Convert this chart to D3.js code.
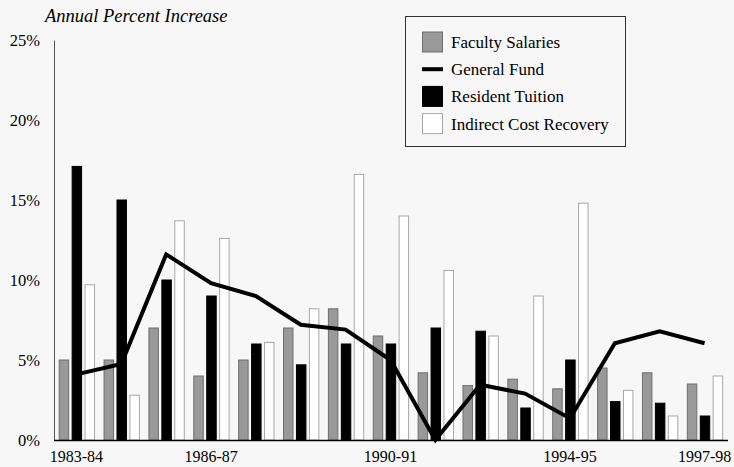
<!DOCTYPE html>
<html><head><meta charset="utf-8">
<script src="https://cdn.jsdelivr.net/npm/d3@7"></script>
<style>
html,body{margin:0;padding:0;background:#f7f7f7;}
svg{display:block;}
</style></head>
<body><svg id="c" width="734" height="467"></svg>
<script>
const years = ["1983-84","1984-85","1985-86","1986-87","1987-88","1988-89","1989-90","1990-91","1991-92","1992-93","1993-94","1994-95","1995-96","1996-97","1997-98"];
const tickYears = ["1983-84","1986-87","1990-91","1994-95","1997-98"];
const facultySalaries = [5.0,5.0,7.0,4.0,5.0,7.0,8.2,6.5,4.2,3.4,3.8,3.2,4.5,4.2,3.5];
const generalFund = [4.1,4.75,11.6,9.8,9.0,7.2,6.9,5.0,0.0,3.45,2.9,1.35,6.05,6.8,6.05];
const residentTuition = [17.1,15.0,10.0,9.0,6.0,4.7,6.0,6.0,7.0,6.8,2.0,5.0,2.4,2.3,1.5];
const indirectCost = [9.7,2.8,13.7,12.6,6.1,8.2,16.6,14.0,10.6,6.5,9.0,14.8,3.1,1.5,4.0];
const yTicks = [0,5,10,15,20,25];

const FONT = '"Liberation Serif"';
const svg = d3.select("#c");
const x = d3.scaleBand().domain(years).range([54,727]).paddingInner(0).paddingOuter(0);
const y = d3.scaleLinear().domain([0,25]).range([440,40]);
const barSeries = [
  {name:"Faculty Salaries", values:facultySalaries, fill:"#999999", stroke:"#6e6e6e", idx:0},
  {name:"Resident Tuition", values:residentTuition, fill:"#000000", stroke:"#000000", idx:1},
  {name:"Indirect Cost Recovery", values:indirectCost, fill:"#ffffff", stroke:"#a8a8a8", idx:2}
];
const sub = d3.scaleBand().domain([0,1,2]).range([0,x.bandwidth()]).paddingInner(0.19).paddingOuter(0.33).align(0.55);

barSeries.forEach(s=>{
  svg.append("g").selectAll("rect").data(years).join("rect")
    .attr("x",d=>x(d)+sub(s.idx)+0.5)
    .attr("y",(d,i)=>y(s.values[i]))
    .attr("width",sub.bandwidth()-1)
    .attr("height",(d,i)=>y(0)-y(s.values[i]))
    .attr("fill",s.fill).attr("stroke",s.stroke).attr("stroke-width",1);
});

// axes
const yAxis = svg.append("g").attr("transform","translate(54,0)")
  .call(d3.axisLeft(y).tickValues(yTicks).tickFormat(d=>d+"%").tickSize(0).tickPadding(14));
yAxis.select(".domain").attr("stroke","#555").attr("d","M0.5,40.5V440.5");
yAxis.selectAll("text").style("font-family",FONT).style("font-size","16.5px").attr("fill","#000");

const xAxis = svg.append("g").attr("transform","translate(0,440)")
  .call(d3.axisBottom(x).tickValues(tickYears).tickSize(0).tickPadding(11));
xAxis.select(".domain").attr("stroke","#000").attr("stroke-width",1.5).attr("d","M54,0.5H728");
xAxis.selectAll("text").style("font-family",FONT).style("font-size","16px").attr("fill","#000");

// general fund line
const line = d3.line().x((d,i)=>x(years[i])+x.bandwidth()/2).y(d=>y(d));
svg.append("path").datum(generalFund).attr("d",line)
  .attr("fill","none").attr("stroke","#000").attr("stroke-width",4).attr("stroke-linejoin","miter");

// title
svg.append("text").attr("x",45).attr("y",22).style("font-size","18.5px").style("font-style","italic")
  .style("font-family",FONT).text("Annual Percent Increase");

// legend
const lg = svg.append("g");
lg.append("rect").attr("x",405.5).attr("y",16.5).attr("width",220).attr("height",130)
  .attr("fill","#f7f7f7").attr("stroke","#333").attr("stroke-width",1);
const legendItems = [
  {name:"Faculty Salaries", type:"rect", fill:"#999999", stroke:"#6e6e6e"},
  {name:"General Fund", type:"line"},
  {name:"Resident Tuition", type:"rect", fill:"#000000", stroke:"#000000"},
  {name:"Indirect Cost Recovery", type:"rect", fill:"#ffffff", stroke:"#a8a8a8"}
];
legendItems.forEach((it,i)=>{
  const cy = 42 + i*27.2;
  if(it.type==="rect"){
    lg.append("rect").attr("x",422.5).attr("y",cy-10).attr("width",20).attr("height",20)
      .attr("fill",it.fill).attr("stroke",it.stroke);
  } else {
    lg.append("line").attr("x1",422).attr("x2",443).attr("y1",cy).attr("y2",cy)
      .attr("stroke","#000").attr("stroke-width",4);
  }
  lg.append("text").attr("x",451).attr("y",cy+6)
    .style("font-size","17px").style("font-family",FONT).text(it.name);
});
</script></body></html>
